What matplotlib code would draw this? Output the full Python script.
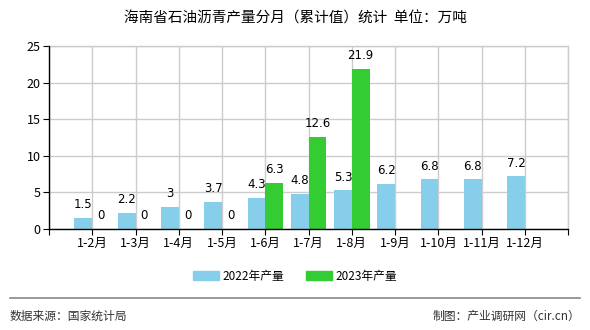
import matplotlib
matplotlib.use("Agg")
import matplotlib.pyplot as plt
from matplotlib.lines import Line2D
import numpy as np

plt.rcParams['font.family'] = ['Noto Sans CJK SC', 'DejaVu Sans']

months = ["1-2月", "1-3月", "1-4月", "1-5月", "1-6月", "1-7月", "1-8月",
          "1-9月", "1-10月", "1-11月", "1-12月"]
prod_2022 = [1.5, 2.2, 3, 3.7, 4.3, 4.8, 5.3, 6.2, 6.8, 6.8, 7.2]
prod_2023 = [0, 0, 0, 0, 6.3, 12.6, 21.9]
labels_2022 = ["1.5", "2.2", "3", "3.7", "4.3", "4.8", "5.3", "6.2", "6.8", "6.8", "7.2"]
labels_2023 = ["0", "0", "0", "0", "6.3", "12.6", "21.9"]

blue = "#87CEEB"
green = "#33CC33"

fig = plt.figure(figsize=(5.9, 3.3), dpi=100)
ax = fig.add_axes([0.083, 0.306, 0.880, 0.555])

x = np.arange(1, len(months) + 1)
w = 0.41
ax.bar(x, prod_2022, width=-w, align='edge', color=blue, zorder=3)
x23 = x[:len(prod_2023)]
ax.bar(x23, prod_2023, width=w, align='edge', color=green, zorder=3)

for xi, v, t in zip(x, prod_2022, labels_2022):
    ax.text(xi - w / 2, v + 0.9, t, ha='center', va='bottom', fontsize=8.5,
            family=['DejaVu Sans'], zorder=4)
for xi, v, t in zip(x23, prod_2023, labels_2023):
    ax.text(xi + w / 2, v + 0.9, t, ha='center', va='bottom', fontsize=8.5,
            family=['DejaVu Sans'], zorder=4)

ax.set_xlim(0, 12)
ax.set_ylim(0, 25)
ax.set_yticks([0, 5, 10, 15, 20, 25])
ax.set_xticks(np.arange(0, 13))
ax.set_xticklabels([""] + months + [""])
ax.tick_params(axis='both', labelsize=9, length=4, color='black', pad=2)
ax.tick_params(axis='x', pad=2)
ax.grid(True, color='#cccccc', linewidth=1, zorder=0)
ax.spines['left'].set_color('black')
ax.spines['bottom'].set_color('black')
ax.spines['top'].set_color('#cccccc')
ax.spines['right'].set_color('#cccccc')
for s in ax.spines.values():
    s.set_linewidth(1)
ax.spines['left'].set_zorder(5)
ax.spines['bottom'].set_zorder(5)

fig.text(0.5, 0.945, "海南省石油沥青产量分月（累计值）统计  单位：万吨", ha='center',
         va='center', fontsize=10.5)

handles = [plt.Rectangle((0, 0), 1, 1, color=blue),
           plt.Rectangle((0, 0), 1, 1, color=green)]
fig.legend(handles, ["2022年产量", "2023年产量"], loc='center',
           bbox_to_anchor=(0.5, 0.163), ncol=2, frameon=False, fontsize=8.5,
           handlelength=2.2, handleheight=0.8, columnspacing=1.8, handletextpad=0.3)

fig.add_artist(Line2D([0.017, 0.983], [0.097, 0.097], color='#888888', linewidth=1.2))
fig.text(0.017, 0.042, "数据来源：国家统计局", ha='left', va='center', fontsize=8.5,
         color='#333333')
fig.text(0.983, 0.042, "制图：产业调研网（cir.cn）", ha='right', va='center', fontsize=8.5,
         color='#333333')

fig.savefig("out.png", dpi=100)
